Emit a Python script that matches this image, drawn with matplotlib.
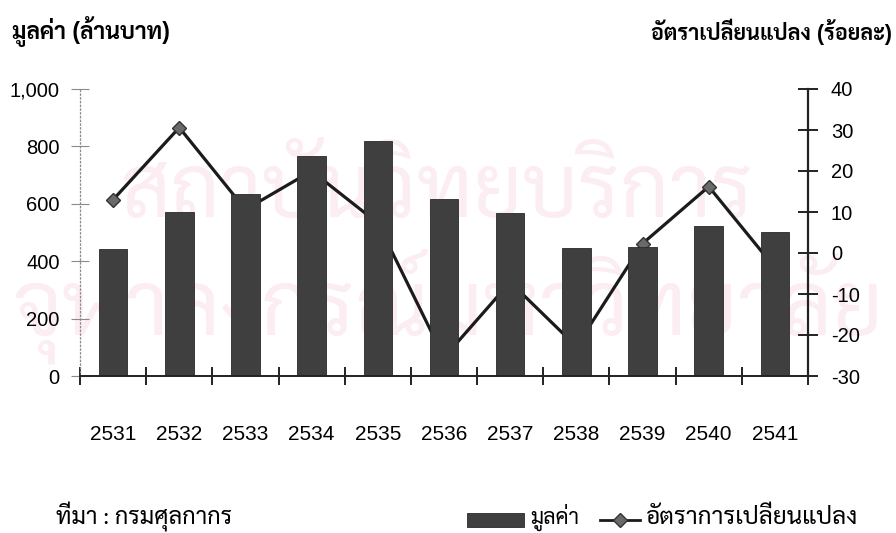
import matplotlib
matplotlib.use("Agg")
import matplotlib.pyplot as plt
from matplotlib import font_manager
from matplotlib.lines import Line2D
from matplotlib.patches import Rectangle

# export value by year (million baht) and year-on-year change (%)
YEARS = ["2531", "2532", "2533", "2534", "2535", "2536",
         "2537", "2538", "2539", "2540", "2541"]
VALUE = [442, 573, 633, 765, 818, 617, 569, 447, 450, 523, 503]
CHANGE = [13.0, 30.6, 10.6, 20.0, 7.3, -25.5, -7.1, -22.8, 2.3, 16.2, -3.6]

LEFT_TICKS = [0, 200, 400, 600, 800, 1000]
RIGHT_TICKS = [-30, -20, -10, 0, 10, 20, 30, 40]

TITLE_LEFT = "มูลค่า (ล้านบาท)"
TITLE_RIGHT = "อัตราเปลี่ยนแปลง (ร้อยละ)"
SOURCE = "ที่มา : กรมศุลกากร"
LEG_BAR = "มูลค่า"
LEG_LINE = "อัตราการเปลี่ยนแปลง"
STAMP = ["สถาบันวิทยบริการ", "จุฬาลงกรณ์มหาวิทยาลัย"]

# first looped Thai face that is installed
_names = {f.name for f in font_manager.fontManager.ttflist}
THAI = next((n for n in ["Sarabun", "Noto Sans Thai Looped", "Athiti", "Noto Sans Thai"]
             if n in _names), "DejaVu Sans")
SANS = ["Liberation Sans", THAI, "DejaVu Sans"]
LOOPED = [THAI, "DejaVu Sans"]

BAR_COLOR = "#3f3f3f"
LINE_COLOR = "#1b1b1b"
STAMP_COLOR = "#fbedf2"

W, H = 896, 533
fig = plt.figure(figsize=(W / 100, H / 100), dpi=100)


def fx(px):
    return px / W


def fy(py):
    return 1 - py / H


ax = fig.add_axes([fx(80), fy(376), fx(808) - fx(80), fy(89) - fy(376)])
ax2 = ax.twinx()

# faint library stamp behind the chart
fig.text(fx(437), fy(196), STAMP[0], fontsize=62, color=STAMP_COLOR, family=LOOPED,
         va="center", ha="center", zorder=0)
fig.text(fx(448), fy(306), STAMP[1], fontsize=64, color=STAMP_COLOR, family=LOOPED,
         va="center", ha="center", zorder=0)

x = list(range(len(YEARS)))

# bars sit in front of the change line
ax.set_zorder(2)
ax.patch.set_visible(False)
ax2.set_zorder(1)
ax2.patch.set_visible(False)

ax.bar(x, VALUE, width=0.43, color=BAR_COLOR, edgecolor="#2a2a2a", linewidth=0.6)
ax2.plot(x, CHANGE, color=LINE_COLOR, lw=2.3, marker="D", ms=7.5,
         mfc="#6a6a6a", mec="#333333", mew=1.0)

ax.set_xlim(-0.5, len(YEARS) - 0.5)
ax.set_ylim(0, 1000)
ax2.set_ylim(-30, 40)

# tick marks on the category boundaries, labels under the centres
ax.set_xticks([i - 0.5 for i in range(len(YEARS) + 1)])
ax.set_xticklabels([])
ax.set_xticks(x, minor=True)
ax.set_xticklabels(YEARS, minor=True, family=SANS, fontsize=15)
ax.tick_params(axis="x", which="major", direction="inout", length=13, width=1.4,
               color="#222222")
ax.tick_params(axis="x", which="minor", length=0, pad=35)

ax.set_yticks(LEFT_TICKS)
ax.set_yticklabels([f"{v:,}" for v in LEFT_TICKS], family=SANS, fontsize=14.5)
ax.tick_params(axis="y", direction="inout", length=13, width=0.8, color="#8a8a8a",
               pad=8)

ax2.set_yticks(RIGHT_TICKS)
ax2.set_yticklabels([str(v) for v in RIGHT_TICKS], family=SANS, fontsize=14.5)
ax2.tick_params(axis="y", direction="inout", length=15, width=1.4, color="#222222",
                pad=9)

for a in (ax, ax2):
    a.spines["top"].set_visible(False)
ax.spines["right"].set_visible(False)
ax.spines["left"].set_linestyle((0, (1, 2)))
ax.spines["left"].set_color("#8a8a8a")
ax.spines["left"].set_linewidth(0.9)
ax.spines["bottom"].set_color("#222222")
ax.spines["bottom"].set_linewidth(1.4)
ax2.spines["left"].set_visible(False)
ax2.spines["bottom"].set_visible(False)
ax2.spines["right"].set_color("#222222")
ax2.spines["right"].set_linewidth(1.6)

fig.text(fx(12), fy(32), TITLE_LEFT, family=SANS, fontsize=16.5, fontweight="bold",
         va="center", ha="left")
fig.text(fx(892), fy(32), TITLE_RIGHT, family=SANS, fontsize=15.5, fontweight="bold",
         va="center", ha="right")

fig.text(fx(56), fy(517), SOURCE, family=LOOPED, fontsize=17, va="center", ha="left")

# legend laid out by hand under the plot
fig.add_artist(Rectangle((fx(467), fy(527)), fx(57), fy(513) - fy(527),
                         transform=fig.transFigure, facecolor=BAR_COLOR,
                         edgecolor="#2a2a2a", linewidth=0.6))
fig.text(fx(530), fy(517), LEG_BAR, family=LOOPED, fontsize=15.5, va="center", ha="left")
fig.add_artist(Line2D([fx(600), fx(640)], [fy(520), fy(520)],
                      transform=fig.transFigure, color=LINE_COLOR, lw=2.0))
fig.add_artist(Line2D([fx(620)], [fy(520)], transform=fig.transFigure,
                      marker="D", ms=7.5, mfc="#6a6a6a", mec="#333333", lw=0))
fig.text(fx(646), fy(517), LEG_LINE, family=LOOPED, fontsize=17.5, va="center", ha="left")

fig.savefig("out.png", dpi=100)
